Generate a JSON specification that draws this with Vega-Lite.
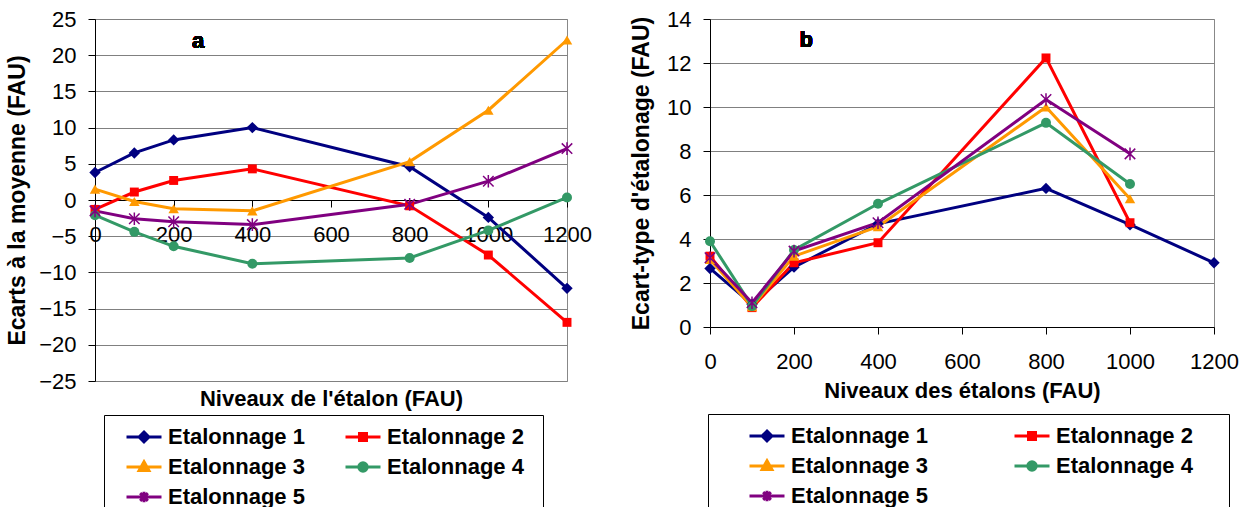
{
  "$schema": "https://vega.github.io/schema/vega-lite/v6.json",
  "background": "white",
  "padding": {"left": 6, "top": 7, "right": 0, "bottom": 0},
  "spacing": 38,
  "resolve": {"scale": {"color": "independent", "fill": "independent", "stroke": "independent", "shape": "independent"}},
  "config": {
    "font": "Liberation Sans",
    "view": {"stroke": "#888888", "strokeWidth": 1},
    "axis": {
      "domainColor": "#000000", "tickColor": "#000000", "tickSize": 7, "domainWidth": 1,
      "labelFontSize": 22, "labelColor": "#000000", "labelFont": "Liberation Sans",
      "titleFontSize": 23, "titleFontWeight": "bold", "titleColor": "#000000", "titleFont": "Liberation Sans",
      "gridColor": "#808080", "gridWidth": 1, "labelFlush": false, "labelOverlap": false
    }
  },
  "datasets": {
    "a": [
      {"level": 0, "series": "Etalonnage 1", "value": 3.8},
      {"level": 100, "series": "Etalonnage 1", "value": 6.5},
      {"level": 200, "series": "Etalonnage 1", "value": 8.3},
      {"level": 400, "series": "Etalonnage 1", "value": 10.0},
      {"level": 800, "series": "Etalonnage 1", "value": 4.6},
      {"level": 1000, "series": "Etalonnage 1", "value": -2.4},
      {"level": 1200, "series": "Etalonnage 1", "value": -12.2},
      {"level": 0, "series": "Etalonnage 2", "value": -1.3},
      {"level": 100, "series": "Etalonnage 2", "value": 1.1},
      {"level": 200, "series": "Etalonnage 2", "value": 2.7},
      {"level": 400, "series": "Etalonnage 2", "value": 4.3},
      {"level": 800, "series": "Etalonnage 2", "value": -0.8},
      {"level": 1000, "series": "Etalonnage 2", "value": -7.6},
      {"level": 1200, "series": "Etalonnage 2", "value": -16.9},
      {"level": 0, "series": "Etalonnage 3", "value": 1.5},
      {"level": 100, "series": "Etalonnage 3", "value": -0.2},
      {"level": 200, "series": "Etalonnage 3", "value": -1.2},
      {"level": 400, "series": "Etalonnage 3", "value": -1.5},
      {"level": 800, "series": "Etalonnage 3", "value": 5.3},
      {"level": 1000, "series": "Etalonnage 3", "value": 12.4},
      {"level": 1200, "series": "Etalonnage 3", "value": 22.1},
      {"level": 0, "series": "Etalonnage 4", "value": -2.1},
      {"level": 100, "series": "Etalonnage 4", "value": -4.4},
      {"level": 200, "series": "Etalonnage 4", "value": -6.4},
      {"level": 400, "series": "Etalonnage 4", "value": -8.8},
      {"level": 800, "series": "Etalonnage 4", "value": -8.0},
      {"level": 1000, "series": "Etalonnage 4", "value": -4.2},
      {"level": 1200, "series": "Etalonnage 4", "value": 0.35},
      {"level": 0, "series": "Etalonnage 5", "value": -1.5},
      {"level": 100, "series": "Etalonnage 5", "value": -2.6},
      {"level": 200, "series": "Etalonnage 5", "value": -3.0},
      {"level": 400, "series": "Etalonnage 5", "value": -3.4},
      {"level": 800, "series": "Etalonnage 5", "value": -0.6},
      {"level": 1000, "series": "Etalonnage 5", "value": 2.6},
      {"level": 1200, "series": "Etalonnage 5", "value": 7.1}
    ],
    "b": [
      {"level": 0, "series": "Etalonnage 1", "value": 2.66},
      {"level": 100, "series": "Etalonnage 1", "value": 1.03},
      {"level": 200, "series": "Etalonnage 1", "value": 2.72},
      {"level": 400, "series": "Etalonnage 1", "value": 4.69},
      {"level": 800, "series": "Etalonnage 1", "value": 6.3},
      {"level": 1000, "series": "Etalonnage 1", "value": 4.65},
      {"level": 1200, "series": "Etalonnage 1", "value": 2.92},
      {"level": 0, "series": "Etalonnage 2", "value": 3.22},
      {"level": 100, "series": "Etalonnage 2", "value": 0.88},
      {"level": 200, "series": "Etalonnage 2", "value": 2.92},
      {"level": 400, "series": "Etalonnage 2", "value": 3.83},
      {"level": 800, "series": "Etalonnage 2", "value": 12.23},
      {"level": 1000, "series": "Etalonnage 2", "value": 4.74},
      {"level": 0, "series": "Etalonnage 3", "value": 3.07},
      {"level": 100, "series": "Etalonnage 3", "value": 0.92},
      {"level": 200, "series": "Etalonnage 3", "value": 3.22},
      {"level": 400, "series": "Etalonnage 3", "value": 4.56},
      {"level": 800, "series": "Etalonnage 3", "value": 10.0},
      {"level": 1000, "series": "Etalonnage 3", "value": 5.83},
      {"level": 0, "series": "Etalonnage 4", "value": 3.9},
      {"level": 100, "series": "Etalonnage 4", "value": 0.95},
      {"level": 200, "series": "Etalonnage 4", "value": 3.5},
      {"level": 400, "series": "Etalonnage 4", "value": 5.6},
      {"level": 800, "series": "Etalonnage 4", "value": 9.28},
      {"level": 1000, "series": "Etalonnage 4", "value": 6.5},
      {"level": 0, "series": "Etalonnage 5", "value": 3.15},
      {"level": 100, "series": "Etalonnage 5", "value": 1.1},
      {"level": 200, "series": "Etalonnage 5", "value": 3.45},
      {"level": 400, "series": "Etalonnage 5", "value": 4.74},
      {"level": 800, "series": "Etalonnage 5", "value": 10.34},
      {"level": 1000, "series": "Etalonnage 5", "value": 7.87}
    ]
  },
  "hconcat": [
    {
      "width": 472,
      "height": 362,
      "data": {"name": "a"},
      "resolve": {"axis": {"x": "independent"}},
      "layer": [
        {
          "mark": {"type": "line", "strokeWidth": 3},
          "encoding": {
            "x": {"field": "level", "type": "quantitative", "scale": {"domain": [0, 1200], "nice": false},
                  "axis": {"offset": -181, "values": [0, 200, 400, 600, 800, 1000, 1200], "format": "d", "title": null, "grid": false, "labelPadding": 17, "labelOverlap": false}},
            "y": {"field": "value", "type": "quantitative", "scale": {"domain": [-25, 25], "nice": false},
                  "axis": {"values": [-25, -20, -15, -10, -5, 0, 5, 10, 15, 20, 25], "format": "d", "title": "Ecarts à la moyenne (FAU)", "grid": true, "labelPadding": 12, "titlePadding": 9, "labelOverlap": false}},
            "color": {"field": "series", "type": "nominal",
                      "scale": {"range": ["#000080", "#FF0000", "#FF9900", "#339966", "#800080"]},
                      "legend": null}
          }
        },
        {
          "transform": [{"filter": "datum.series === 'Etalonnage 1'"}],
          "mark": {"type": "point", "shape": "diamond", "filled": true, "size": 130, "opacity": 1},
          "encoding": {
            "x": {"field": "level", "type": "quantitative", "axis": null},
            "y": {"field": "value", "type": "quantitative", "axis": {"values": [-25, -20, -15, -10, -5, 0, 5, 10, 15, 20, 25], "format": "d", "title": "Ecarts à la moyenne (FAU)", "grid": true, "labelPadding": 12, "titlePadding": 9, "labelOverlap": false}},
            "color": {"field": "series", "type": "nominal", "legend": null}
          }
        },
        {
          "transform": [{"filter": "datum.series === 'Etalonnage 2'"}],
          "mark": {"type": "point", "shape": "square", "filled": true, "size": 80, "opacity": 1},
          "encoding": {
            "x": {"field": "level", "type": "quantitative", "axis": null},
            "y": {"field": "value", "type": "quantitative", "axis": {"values": [-25, -20, -15, -10, -5, 0, 5, 10, 15, 20, 25], "format": "d", "title": "Ecarts à la moyenne (FAU)", "grid": true, "labelPadding": 12, "titlePadding": 9, "labelOverlap": false}},
            "color": {"field": "series", "type": "nominal", "legend": null}
          }
        },
        {
          "transform": [{"filter": "datum.series === 'Etalonnage 3'"}],
          "mark": {"type": "point", "shape": "triangle-up", "filled": true, "size": 110, "opacity": 1},
          "encoding": {
            "x": {"field": "level", "type": "quantitative", "axis": null},
            "y": {"field": "value", "type": "quantitative", "axis": {"values": [-25, -20, -15, -10, -5, 0, 5, 10, 15, 20, 25], "format": "d", "title": "Ecarts à la moyenne (FAU)", "grid": true, "labelPadding": 12, "titlePadding": 9, "labelOverlap": false}},
            "color": {"field": "series", "type": "nominal", "legend": null}
          }
        },
        {
          "transform": [{"filter": "datum.series === 'Etalonnage 4'"}],
          "mark": {"type": "point", "shape": "circle", "filled": true, "size": 100, "opacity": 1},
          "encoding": {
            "x": {"field": "level", "type": "quantitative", "axis": null},
            "y": {"field": "value", "type": "quantitative", "axis": {"values": [-25, -20, -15, -10, -5, 0, 5, 10, 15, 20, 25], "format": "d", "title": "Ecarts à la moyenne (FAU)", "grid": true, "labelPadding": 12, "titlePadding": 9, "labelOverlap": false}},
            "color": {"field": "series", "type": "nominal", "legend": null}
          }
        },
        {
          "transform": [{"filter": "datum.series === 'Etalonnage 5'"}],
          "mark": {"type": "point", "shape": "M-1,-1L1,1M-1,1L1,-1M0,-1.2V1.2", "filled": false, "size": 110, "strokeWidth": 1.5, "opacity": 1},
          "encoding": {
            "x": {"field": "level", "type": "quantitative", "axis": null},
            "y": {"field": "value", "type": "quantitative", "axis": {"values": [-25, -20, -15, -10, -5, 0, 5, 10, 15, 20, 25], "format": "d", "title": "Ecarts à la moyenne (FAU)", "grid": true, "labelPadding": 12, "titlePadding": 9, "labelOverlap": false}},
            "color": {"field": "series", "type": "nominal", "legend": null}
          }
        },
        {
          "mark": {"type": "text", "fontSize": 22, "fontWeight": "bold", "color": "#000000"},
          "encoding": {
            "x": {"datum": 262, "type": "quantitative", "axis": null},
            "y": {"datum": 22, "type": "quantitative", "axis": {"values": [-25, -20, -15, -10, -5, 0, 5, 10, 15, 20, 25], "format": "d", "title": "Ecarts à la moyenne (FAU)", "grid": true, "labelPadding": 12, "titlePadding": 9, "labelOverlap": false}},
            "text": {"value": "a"}
          }
        },
        {
          "transform": [{"filter": "false"}],
          "mark": {"type": "point", "filled": true, "opacity": 1, "strokeWidth": 3},
          "encoding": {
            "x": {"field": "level", "type": "quantitative",
                  "axis": {"orient": "bottom", "title": "Niveaux de l'étalon (FAU)", "titleFontSize": 22, "labels": false, "ticks": false, "domain": false, "grid": false, "titlePadding": 7}},
            "y": {"field": "value", "type": "quantitative", "axis": {"values": [-25, -20, -15, -10, -5, 0, 5, 10, 15, 20, 25], "format": "d", "title": "Ecarts à la moyenne (FAU)", "grid": true, "labelPadding": 12, "titlePadding": 9, "labelOverlap": false}},
            "fill": {"field": "series", "type": "nominal",
                     "scale": {"domain": ["Etalonnage 1", "Etalonnage 2", "Etalonnage 3", "Etalonnage 4", "Etalonnage 5"], "range": ["#000080", "#FF0000", "#FF9900", "#339966", "#800080"]},
                     "legend": {"orient": "none", "legendX": 9, "legendY": 396, "title": "\u00a0", "titleOrient": "right", "titlePadding": 16, "columns": 2, "direction": "horizontal", "strokeColor": "#000000", "padding": 3, "symbolOffset": 18, "columnPadding": 21, "rowPadding": -2, "labelFontSize": 22, "labelFontWeight": "bold", "labelColor": "#000000", "labelOffset": 5, "labelLimit": 300, "symbolSize": 1225, "symbolStrokeWidth": 3}},
            "stroke": {"field": "series", "type": "nominal",
                       "scale": {"domain": ["Etalonnage 1", "Etalonnage 2", "Etalonnage 3", "Etalonnage 4", "Etalonnage 5"], "range": ["#000080", "#FF0000", "#FF9900", "#339966", "#800080"]},
                       "legend": {"orient": "none", "legendX": 9, "legendY": 396, "title": "\u00a0", "titleOrient": "right", "titlePadding": 16, "columns": 2, "direction": "horizontal", "strokeColor": "#000000", "padding": 3, "symbolOffset": 18, "columnPadding": 21, "rowPadding": -2, "labelFontSize": 22, "labelFontWeight": "bold", "labelColor": "#000000", "labelOffset": 5, "labelLimit": 300, "symbolSize": 1225, "symbolStrokeWidth": 3}},
            "shape": {"field": "series", "type": "nominal",
                      "scale": {"domain": ["Etalonnage 1", "Etalonnage 2", "Etalonnage 3", "Etalonnage 4", "Etalonnage 5"],
                                "range": ["M-1,0H1M0,-0.28L0.28,0L0,0.28L-0.28,0Z", "M-1,0H1M-0.2,-0.2H0.2V0.2H-0.2Z", "M-1,0H1M0,-0.3L0.28,0.2H-0.28Z", "M-1,0H1M0.24,0A0.24,0.24 0 1,1 -0.24,0A0.24,0.24 0 1,1 0.24,0Z", "M-1,0H1M-0.22,-0.22L0.22,0.22M-0.22,0.22L0.22,-0.22M0,-0.3V0.3"]},
                      "legend": {"orient": "none", "legendX": 9, "legendY": 396, "title": "\u00a0", "titleOrient": "right", "titlePadding": 16, "columns": 2, "direction": "horizontal", "strokeColor": "#000000", "padding": 3, "symbolOffset": 18, "columnPadding": 21, "rowPadding": -2, "labelFontSize": 22, "labelFontWeight": "bold", "labelColor": "#000000", "labelOffset": 5, "labelLimit": 300, "symbolSize": 1225, "symbolStrokeWidth": 3}}
          }
        }
      ]
    },
    {
      "width": 504,
      "height": 308,
      "data": {"name": "b"},
      "layer": [
        {
          "mark": {"type": "line", "strokeWidth": 3},
          "encoding": {
            "x": {"field": "level", "type": "quantitative", "scale": {"domain": [0, 1200], "nice": false},
                  "axis": {"values": [0, 200, 400, 600, 800, 1000, 1200], "format": "d", "title": "Niveaux des étalons (FAU)", "titleFontSize": 22, "grid": false, "labelPadding": 17, "titlePadding": 8, "labelOverlap": false}},
            "y": {"field": "value", "type": "quantitative", "scale": {"domain": [0, 14], "nice": false},
                  "axis": {"values": [0, 2, 4, 6, 8, 10, 12, 14], "format": "d", "title": "Ecart-type d'étalonage (FAU)", "grid": true, "labelPadding": 12, "titlePadding": 13, "labelOverlap": false}},
            "color": {"field": "series", "type": "nominal",
                      "scale": {"range": ["#000080", "#FF0000", "#FF9900", "#339966", "#800080"]},
                      "legend": null}
          }
        },
        {
          "transform": [{"filter": "datum.series === 'Etalonnage 1'"}],
          "mark": {"type": "point", "shape": "diamond", "filled": true, "size": 130, "opacity": 1},
          "encoding": {
            "x": {"field": "level", "type": "quantitative"},
            "y": {"field": "value", "type": "quantitative"},
            "color": {"field": "series", "type": "nominal", "legend": null}
          }
        },
        {
          "transform": [{"filter": "datum.series === 'Etalonnage 2'"}],
          "mark": {"type": "point", "shape": "square", "filled": true, "size": 80, "opacity": 1},
          "encoding": {
            "x": {"field": "level", "type": "quantitative"},
            "y": {"field": "value", "type": "quantitative"},
            "color": {"field": "series", "type": "nominal", "legend": null}
          }
        },
        {
          "transform": [{"filter": "datum.series === 'Etalonnage 3'"}],
          "mark": {"type": "point", "shape": "triangle-up", "filled": true, "size": 110, "opacity": 1},
          "encoding": {
            "x": {"field": "level", "type": "quantitative"},
            "y": {"field": "value", "type": "quantitative"},
            "color": {"field": "series", "type": "nominal", "legend": null}
          }
        },
        {
          "transform": [{"filter": "datum.series === 'Etalonnage 4'"}],
          "mark": {"type": "point", "shape": "circle", "filled": true, "size": 100, "opacity": 1},
          "encoding": {
            "x": {"field": "level", "type": "quantitative"},
            "y": {"field": "value", "type": "quantitative"},
            "color": {"field": "series", "type": "nominal", "legend": null}
          }
        },
        {
          "transform": [{"filter": "datum.series === 'Etalonnage 5'"}],
          "mark": {"type": "point", "shape": "M-1,-1L1,1M-1,1L1,-1M0,-1.2V1.2", "filled": false, "size": 110, "strokeWidth": 1.5, "opacity": 1},
          "encoding": {
            "x": {"field": "level", "type": "quantitative"},
            "y": {"field": "value", "type": "quantitative"},
            "color": {"field": "series", "type": "nominal", "legend": null}
          }
        },
        {
          "mark": {"type": "text", "fontSize": 22, "fontWeight": "bold", "color": "#000000"},
          "encoding": {
            "x": {"datum": 229, "type": "quantitative"},
            "y": {"datum": 13.05, "type": "quantitative"},
            "text": {"value": "b"}
          }
        },
        {
          "transform": [{"filter": "false"}],
          "mark": {"type": "point", "filled": true, "opacity": 1, "strokeWidth": 3},
          "encoding": {
            "x": {"field": "level", "type": "quantitative"},
            "y": {"field": "value", "type": "quantitative"},
            "fill": {"field": "series", "type": "nominal",
                     "scale": {"domain": ["Etalonnage 1", "Etalonnage 2", "Etalonnage 3", "Etalonnage 4", "Etalonnage 5"], "range": ["#000080", "#FF0000", "#FF9900", "#339966", "#800080"]},
                     "legend": {"orient": "none", "legendX": -2, "legendY": 395, "title": "\u00a0", "titleOrient": "right", "titlePadding": 33, "columns": 2, "direction": "horizontal", "strokeColor": "#000000", "padding": 3, "symbolOffset": 37, "columnPadding": 48, "rowPadding": -2, "labelFontSize": 22, "labelFontWeight": "bold", "labelColor": "#000000", "labelOffset": 5, "labelLimit": 400, "symbolSize": 1225, "symbolStrokeWidth": 3}},
            "stroke": {"field": "series", "type": "nominal",
                       "scale": {"domain": ["Etalonnage 1", "Etalonnage 2", "Etalonnage 3", "Etalonnage 4", "Etalonnage 5"], "range": ["#000080", "#FF0000", "#FF9900", "#339966", "#800080"]},
                       "legend": {"orient": "none", "legendX": -2, "legendY": 395, "title": "\u00a0", "titleOrient": "right", "titlePadding": 33, "columns": 2, "direction": "horizontal", "strokeColor": "#000000", "padding": 3, "symbolOffset": 37, "columnPadding": 48, "rowPadding": -2, "labelFontSize": 22, "labelFontWeight": "bold", "labelColor": "#000000", "labelOffset": 5, "labelLimit": 400, "symbolSize": 1225, "symbolStrokeWidth": 3}},
            "shape": {"field": "series", "type": "nominal",
                      "scale": {"domain": ["Etalonnage 1", "Etalonnage 2", "Etalonnage 3", "Etalonnage 4", "Etalonnage 5"],
                                "range": ["M-1,0H1M0,-0.28L0.28,0L0,0.28L-0.28,0Z", "M-1,0H1M-0.2,-0.2H0.2V0.2H-0.2Z", "M-1,0H1M0,-0.3L0.28,0.2H-0.28Z", "M-1,0H1M0.24,0A0.24,0.24 0 1,1 -0.24,0A0.24,0.24 0 1,1 0.24,0Z", "M-1,0H1M-0.22,-0.22L0.22,0.22M-0.22,0.22L0.22,-0.22M0,-0.3V0.3"]},
                      "legend": {"orient": "none", "legendX": -2, "legendY": 395, "title": "\u00a0", "titleOrient": "right", "titlePadding": 33, "columns": 2, "direction": "horizontal", "strokeColor": "#000000", "padding": 3, "symbolOffset": 37, "columnPadding": 48, "rowPadding": -2, "labelFontSize": 22, "labelFontWeight": "bold", "labelColor": "#000000", "labelOffset": 5, "labelLimit": 400, "symbolSize": 1225, "symbolStrokeWidth": 3}}
          }
        }
      ]
    }
  ]
}
